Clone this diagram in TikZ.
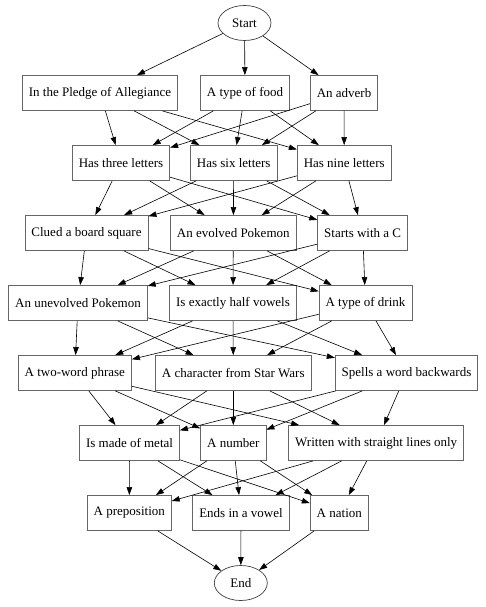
\documentclass[tikz,border=0pt]{standalone}
\usepackage{fontspec}
\setmainfont{Liberation Serif}
\usetikzlibrary{arrows.meta,shapes.geometric}

\begin{document}
\begin{tikzpicture}[x=1pt,y=-1pt,
  box/.style={draw=black!60, line width=0.8pt, minimum height=35pt, inner xsep=6.5pt,
    font=\fontsize{13}{15}\selectfont},
  term/.style={ellipse, draw=black!75, line width=0.7pt, minimum width=53pt, minimum height=35pt,
    inner sep=1pt, font=\fontsize{13}{15}\selectfont},
  edge/.style={-{Triangle[length=8pt,width=5.5pt]}, line width=0.6pt}]
  \useasboundingbox (0,0) rectangle (486,607);
  % start and end
  \node[term] (start) at (244.5,23) {Start};
  \node[term] (end) at (240.8,583) {End};
  % row 1
  \node[box] (pledge) at (100,93) {In the Pledge of Allegiance};
  \node[box] (food) at (245,93) {A type of food};
  \node[box] (adverb) at (344,93) {An adverb};
  % row 2
  \node[box] (three) at (121,163) {Has three letters};
  \node[box] (six) at (233.7,163) {Has six letters};
  \node[box] (nine) at (344.2,163) {Has nine letters};
  % row 3
  \node[box] (clued) at (86.5,233) {Clued a board square};
  \node[box] (evolved) at (233.3,233) {An evolved Pokemon};
  \node[box] (startc) at (362.7,233) {Starts with a C};
  % row 4
  \node[box] (unevolved) at (78,303) {An unevolved Pokemon};
  \node[box] (half) at (233,303) {Is exactly half vowels};
  \node[box] (drink) at (365.5,303) {A type of drink};
  % row 5
  \node[box] (twoword) at (74.8,373) {A two-word phrase};
  \node[box] (starwars) at (233.3,373) {A character from Star Wars};
  \node[box] (spells) at (406.5,373) {Spells a word backwards};
  % row 6
  \node[box] (metal) at (129.5,443) {Is made of metal};
  \node[box] (number) at (233.3,443) {A number};
  \node[box] (straight) at (376.2,443) {Written with straight lines only};
  % row 7
  \node[box] (prep) at (129.3,513) {A preposition};
  \node[box] (vowel) at (241,513) {Ends in a vowel};
  \node[box] (nation) at (339.3,513) {A nation};
  % edges
  \foreach \b in {pledge,food,adverb}
    \draw[edge] (start) -- (\b);
  \foreach \a in {pledge,food,adverb}
    \foreach \b in {three,six,nine}
      \draw[edge] (\a) -- (\b);
  \foreach \a in {three,six,nine}
    \foreach \b in {clued,evolved,startc}
      \draw[edge] (\a) -- (\b);
  \foreach \a in {clued,evolved,startc}
    \foreach \b in {unevolved,half,drink}
      \draw[edge] (\a) -- (\b);
  \foreach \a in {unevolved,half,drink}
    \foreach \b in {twoword,starwars,spells}
      \draw[edge] (\a) -- (\b);
  \foreach \a in {twoword,starwars,spells}
    \foreach \b in {metal,number,straight}
      \draw[edge] (\a) -- (\b);
  \foreach \a in {metal,number,straight}
    \foreach \b in {prep,vowel,nation}
      \draw[edge] (\a) -- (\b);
  \foreach \a in {prep,vowel,nation}
    \draw[edge] (\a) -- (end);
\end{tikzpicture}
\end{document}
